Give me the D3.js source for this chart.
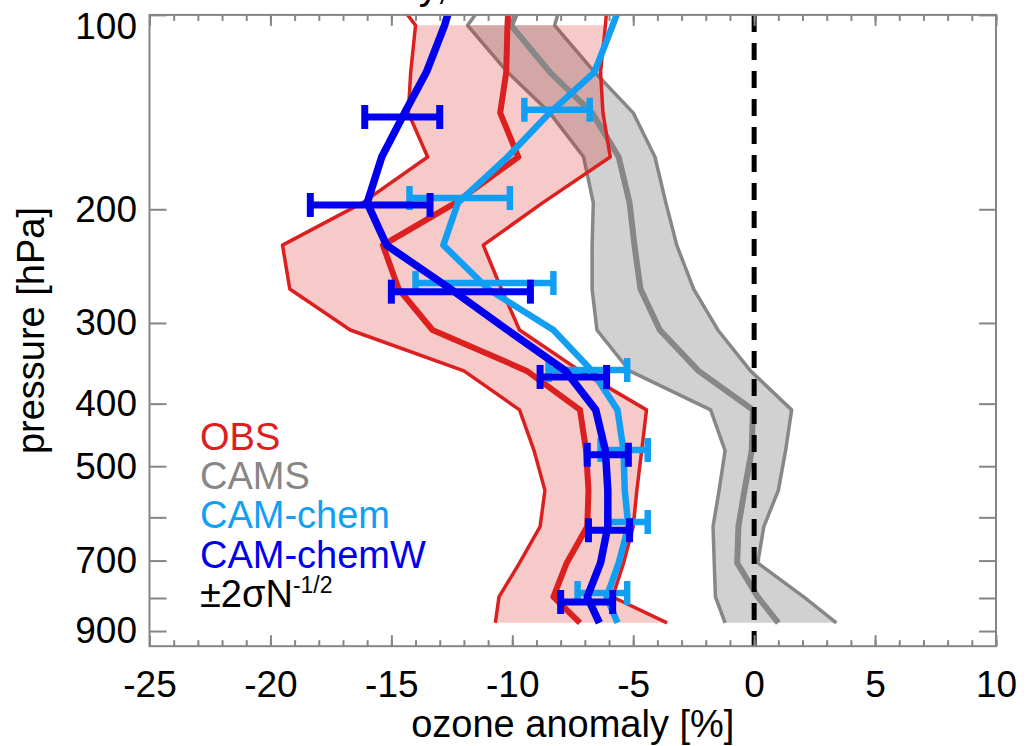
<!DOCTYPE html>
<html>
<head>
<meta charset="utf-8">
<script src="https://cdn.jsdelivr.net/npm/d3@7"></script>
<style>
    body { margin: 0; background: #fff; }
    svg { display: block; }
    text { font-family: "Liberation Sans", Arial, Helvetica, sans-serif; }
</style>
</head>
<body>
<svg id="chart" width="1032" height="746"></svg>
<script>
// Pressure levels [hPa] of the profiles (first one sits above the plot top)
const levels = [88.5, 103.8, 122.6, 141.8, 166, 195.5, 227.3, 265.8, 307.6, 355.9, 409, 473, 545, 620, 706, 797, 874];

// Ozone anomaly [%] per level
const obsLow   = [-15.4, -14.0, -14.2, -14.3, -13.5, -16.2, -19.5, -19.2, -16.7, -12.0, -9.7, -9.1, -8.65, -8.85, -9.7, -10.55, -10.7];
const obsMean  = [-10.1, -10.2, -10.25, -10.5, -9.75, -12.35, -15.35, -14.7, -13.3, -9.4, -7.2, -6.95, -6.85, -6.9, -7.75, -8.3, -7.2];
const obsHigh  = [-6.0, -6.15, -6.35, -6.25, -5.95, -8.75, -11.2, -10.45, -9.7, -7.2, -4.45, -4.65, -4.85, -5.0, -5.4, -5.85, -3.6];
const camsLow  = [-10.5, -11.85, -10.2, -8.45, -7.05, -6.65, -6.7, -6.7, -6.5, -5.15, -1.8, -1.2, -1.45, -1.7, -1.65, -1.6, -1.2];
const camsMean = [-9.25, -10.05, -8.45, -6.7, -5.6, -5.15, -4.95, -4.7, -3.9, -2.3, -0.05, -0.1, -0.4, -0.65, -0.7, 0.15, 1.0];
const camsHigh = [-7.7, -8.25, -6.6, -5.0, -4.1, -3.65, -3.2, -2.5, -1.5, -0.15, 1.55, 1.3, 1.0, 0.4, 0.15, 2.05, 3.4];
const camChem  = [-5.15, -5.85, -6.6, -8.45, -10.2, -12.25, -12.85, -11.0, -8.3, -6.7, -5.65, -5.4, -5.35, -5.2, -5.6, -6.1, -5.65];
const camChemW = [-12.25, -12.8, -13.55, -14.45, -15.4, -16.0, -15.2, -12.55, -10.2, -7.8, -6.55, -6.15, -6.05, -6.05, -6.35, -6.9, -6.4];

// +-2 sigma N^-1/2 bars
const chemBarP   = [140.3, 192.2, 260.2, 354.8, 471.8, 610, 786];
const chemBarLo  = [-9.5, -14.25, -14.0, -8.5, -6.35, -6.05, -7.3];
const chemBarHi  = [-6.8, -10.1, -8.3, -5.25, -4.4, -4.4, -5.25];
const chemWBarP  = [143.9, 197, 268.3, 363.7, 480, 628, 811.5];
const chemWBarLo = [-16.1, -18.35, -15.0, -8.85, -6.9, -6.85, -8.0];
const chemWBarHi = [-13.0, -13.4, -9.25, -6.1, -5.2, -5.15, -5.85];

// Axis ticks
const xMajorTicks = d3.range(-25, 11, 5);
const xMinorTicks = d3.range(-25, 11, 1);
const yTicks = [100, 200, 300, 400, 500, 600, 700, 800, 900];
const yLabels = [100, 200, 300, 400, 500, 700, 900];

const legendLabels = ["OBS", "CAMS", "CAM-chem", "CAM-chemW"];

const RED = "#dc2020";
const GRAY = "#878787";
const LIGHTBLUE = "#129ff3";
const BLUE = "#0000ee";
const AXIS = "#858585";
const legendColors = [RED, GRAY, LIGHTBLUE, BLUE];

const svg = d3.select("#chart");
const plot = { left: 149.5, right: 996, top: 14.9, bottom: 646.2 };

const x = d3.scaleLinear().domain([-25, 10]).range([plot.left, plot.right]);
const y = d3.scaleLog().domain([100, 950]).range([plot.top, plot.bottom]);

svg.append("defs").append("clipPath").attr("id", "clip")
    .append("rect")
    .attr("x", plot.left).attr("y", plot.top)
    .attr("width", plot.right - plot.left).attr("height", plot.bottom - plot.top);

const g = svg.append("g").attr("clip-path", "url(#clip)");

function profile(values) {
    return levels.map((p, i) => ({ p: p, v: values[i] }));
}

const line = d3.line().x(d => x(d.v)).y(d => y(d.p));

// shaded range, only over the levels inside the plot
function band(lo, hi) {
    const a = profile(lo).filter(d => d.p >= 100);
    const b = profile(hi).filter(d => d.p >= 100).reverse();
    return line(a.concat(b)) + "Z";
}

function drawLine(values, color, width) {
    g.append("path")
        .attr("d", line(profile(values)))
        .attr("fill", "none")
        .attr("stroke", color)
        .attr("stroke-width", width)
        .attr("stroke-linejoin", "round");
}

function drawBars(ps, lo, hi, color, width) {
    const bars = g.append("g").attr("stroke", color).attr("stroke-width", width);
    ps.forEach((p, i) => {
        const yy = y(p);
        bars.append("line").attr("x1", x(lo[i])).attr("x2", x(hi[i])).attr("y1", yy).attr("y2", yy);
        [lo[i], hi[i]].forEach(v => {
            bars.append("line").attr("x1", x(v)).attr("x2", x(v)).attr("y1", yy - 12).attr("y2", yy + 12);
        });
    });
}

// CAMS range
g.append("path").attr("d", band(camsLow, camsHigh)).attr("fill", "#808080").attr("fill-opacity", 0.36);
drawLine(camsLow, GRAY, 3.5);
drawLine(camsHigh, GRAY, 3.5);

// OBS range
g.append("path").attr("d", band(obsLow, obsHigh)).attr("fill", RED).attr("fill-opacity", 0.24);

drawLine(camsMean, GRAY, 6);
drawLine(obsLow, RED, 3.5);
drawLine(obsHigh, RED, 3.5);
drawLine(obsMean, RED, 6);

// zero line
g.append("line")
    .attr("x1", x(0)).attr("x2", x(0))
    .attr("y1", plot.top).attr("y2", plot.bottom)
    .attr("stroke", "#000")
    .attr("stroke-width", 5)
    .attr("stroke-dasharray", "17 11");

drawLine(camChem, LIGHTBLUE, 6.5);
drawBars(chemBarP, chemBarLo, chemBarHi, LIGHTBLUE, 6.5);
drawLine(camChemW, BLUE, 7.5);
drawBars(chemWBarP, chemWBarLo, chemWBarHi, BLUE, 7);

// Axes
function styleAxis(sel) {
    sel.select(".domain").remove();
    sel.selectAll(".tick line").attr("stroke", AXIS).attr("stroke-width", 2);
    sel.selectAll(".tick text").attr("fill", "#000");
    sel.attr("font-size", 37).attr("font-family", null);
}

svg.append("g")
    .attr("transform", `translate(0,${plot.bottom})`)
    .call(d3.axisBottom(x).tickValues(xMinorTicks).tickSize(-6).tickFormat(""))
    .call(styleAxis);
svg.append("g")
    .attr("transform", `translate(0,${plot.bottom})`)
    .call(d3.axisBottom(x).tickValues(xMajorTicks).tickSize(-11).tickPadding(24.7).tickFormat(d => String(d)))
    .call(styleAxis);
svg.append("g")
    .attr("transform", `translate(0,${plot.top})`)
    .call(d3.axisTop(x).tickValues(xMinorTicks).tickSize(-6).tickFormat(""))
    .call(styleAxis);
svg.append("g")
    .attr("transform", `translate(0,${plot.top})`)
    .call(d3.axisTop(x).tickValues(xMajorTicks).tickSize(-11).tickFormat(""))
    .call(styleAxis);

const yAxis = svg.append("g")
    .attr("transform", `translate(${plot.left},0)`)
    .call(d3.axisLeft(y).tickValues(yTicks).tickSize(-17).tickPadding(12.5)
        .tickFormat(d => yLabels.includes(d) ? String(d) : ""))
    .call(styleAxis);
// top label is pushed inside the plot range
yAxis.selectAll(".tick text").filter(d => d === 100).attr("dy", "0.65em");

svg.append("g")
    .attr("transform", `translate(${plot.right},0)`)
    .call(d3.axisRight(y).tickValues(yTicks).tickSize(-17).tickFormat(""))
    .call(styleAxis);

svg.append("rect")
    .attr("x", plot.left).attr("y", plot.top)
    .attr("width", plot.right - plot.left).attr("height", plot.bottom - plot.top)
    .attr("fill", "none")
    .attr("stroke", AXIS)
    .attr("stroke-width", 2);

// Axis titles
svg.append("text")
    .attr("x", (plot.left + plot.right) / 2)
    .attr("y", 737)
    .attr("text-anchor", "middle")
    .attr("font-size", 38)
    .text("ozone anomaly [%]");

svg.append("text")
    .attr("transform", `translate(44,${(plot.top + plot.bottom) / 2}) rotate(-90)`)
    .attr("text-anchor", "middle")
    .attr("font-size", 38)
    .text("pressure [hPa]");

// title, cut off by the top of the picture
svg.append("text")
    .attr("x", 447).attr("y", -1)
    .attr("text-anchor", "end")
    .attr("font-size", 40)
    .text("y,");

// Legend
const legend = svg.append("g").attr("font-size", 38);
legendLabels.forEach((label, i) => {
    legend.append("text")
        .attr("x", 200).attr("y", 450 + i * 39.2)
        .attr("fill", legendColors[i])
        .text(label);
});
const sigma = legend.append("text")
    .attr("x", 200).attr("y", 450 + 4 * 39.2)
    .attr("fill", "#000");
sigma.append("tspan").text("±2σN");
sigma.append("tspan").attr("font-size", 23).attr("dy", -14).text("-1/2");
</script>
</body>
</html>
